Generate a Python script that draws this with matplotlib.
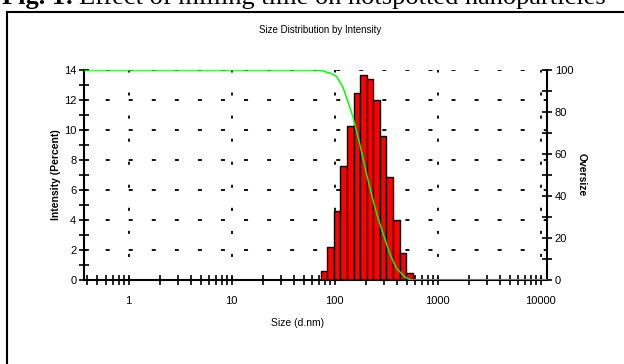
import numpy as np
import matplotlib
matplotlib.use("Agg")
import matplotlib.pyplot as plt
from matplotlib.lines import Line2D
from matplotlib.ticker import FixedLocator, NullFormatter

plt.rcParams['font.family'] = ['Liberation Sans', 'DejaVu Sans']
plt.rcParams['lines.scale_dashes'] = False

# intensity distribution (bin centres in d.nm, % intensity)
sizes = [78.82, 91.28, 105.7, 122.4, 141.8, 164.2, 190.1,
         220.2, 255.0, 295.3, 342.0, 396.1, 458.7, 531.2]
intensity = [0.6, 2.2, 4.6, 7.6, 10.3, 12.5, 13.7,
             13.4, 12.0, 9.6, 6.9, 4.0, 1.8, 0.5]

# cumulative oversize curve (d.nm, %)
over_size = [0.37, 68.0, 76.0, 83.0, 92.0, 103.9, 120.0, 150.5, 174.8, 210.6,
             244.6, 273.5, 342.0, 397.0, 478.0, 530.0, 555.0, 11500.0]
oversize = [100, 100, 99.7, 99.0, 98.5, 97.0, 92.0, 77.8, 65.0, 47.6,
            35.0, 27.0, 12.7, 5.6, 1.6, 0.3, 0.0, 0.0]

x_ticks = [1, 10, 100, 1000, 10000]
y_ticks = [0, 2, 4, 6, 8, 10, 12, 14]
r_ticks = [0, 20, 40, 60, 80, 100]

W, H = 624, 364
fig = plt.figure(figsize=(W / 100, H / 100), dpi=100)
ax = fig.add_axes([84 / W, 1 - 280 / H, (547 - 84) / W, (280 - 70) / H])
ax2 = ax.twinx()

ax.set_xscale('log')
ax.set_xlim(0.37, 11500)
ax.set_ylim(0, 14)
ax2.set_ylim(0, 100)

# dotted-dash grid behind the bars
for y in y_ticks[1:]:
    ax.axhline(y, color='black', lw=1.3, ls=(1, (2.9, 13.7)), zorder=0)
for x in x_ticks:
    ax.axvline(x, color='black', lw=1.3, ls=(0, (2.2, 14.4)), zorder=0)

# histogram bars, drawn with log-space widths
step = 10 ** (np.log10(sizes[1]) - np.log10(sizes[0]))
s = np.array(sizes)
left = s / np.sqrt(step)
ax.bar(left, intensity, width=left * step - left, align='edge',
       color='#ff0000', edgecolor='black', lw=1.0, zorder=2)

ax2.plot(over_size, oversize, color='#00ff00', lw=1.1, zorder=3)
ax2.set_zorder(ax.get_zorder() + 1)
ax2.patch.set_visible(False)

for a in (ax, ax2):
    a.spines['top'].set_visible(False)
    a.tick_params(which='both', direction='inout', length=7, width=1.2,
                  labelsize=8, pad=2)
ax.spines['right'].set_visible(False)
ax2.spines['left'].set_visible(False)
ax2.spines['bottom'].set_visible(False)
for sp in ('left', 'bottom'):
    ax.spines[sp].set_linewidth(1.5)
ax2.spines['right'].set_linewidth(1.5)

ax.xaxis.set_major_locator(FixedLocator(x_ticks))
ax.xaxis.set_minor_locator(FixedLocator(
    [m * 10 ** e for e in range(-1, 4) for m in range(2, 10) if 0.37 < m * 10 ** e < 11500]))
ax.xaxis.set_minor_formatter(NullFormatter())
ax.set_xticklabels([str(t) for t in x_ticks])
ax.tick_params(axis='x', which='both', pad=8)

ax.yaxis.set_major_locator(FixedLocator(y_ticks))
ax.yaxis.set_minor_locator(FixedLocator(list(range(1, 14, 2))))
ax2.yaxis.set_major_locator(FixedLocator(r_ticks))
ax2.yaxis.set_minor_locator(FixedLocator(list(range(10, 100, 20))))

fig.text(320 / W, 1 - 30 / H, 'Size Distribution by Intensity', ha='center',
         va='center', fontsize=7)
fig.text(298 / W, 1 - 323 / H, 'Size (d.nm)', ha='center', va='center', fontsize=7.5)
fig.text(56 / W, 1 - 175 / H, 'Intensity (Percent)', rotation=90, ha='center',
         va='center', fontsize=7.5, fontweight='bold')
fig.text(582 / W, 1 - 175 / H, 'Oversize', rotation=-90, ha='center',
         va='center', fontsize=7.5, fontweight='bold')

# page frame and the caption running off the top edge
fig.add_artist(Line2D([7 / W, 7 / W], [0, 1 - 12 / H], color='black', lw=1.5,
                      transform=fig.transFigure))
fig.add_artist(Line2D([7 / W, 1], [1 - 12 / H, 1 - 12 / H], color='black', lw=1.5,
                      transform=fig.transFigure))
cap1 = fig.text(2 / W, 1 - 4 / H, 'Fig. 1:', ha='left', va='baseline',
                fontsize=19, fontweight='bold', family='Liberation Serif')
fig.canvas.draw()
bb = cap1.get_window_extent()
fig.text((bb.x1 + 5) / W, 1 - 4 / H, 'Effect of milling time on hotspotted nanoparticles',
         ha='left', va='baseline', fontsize=19, family='Liberation Serif')

fig.savefig('out.png', dpi=100)
